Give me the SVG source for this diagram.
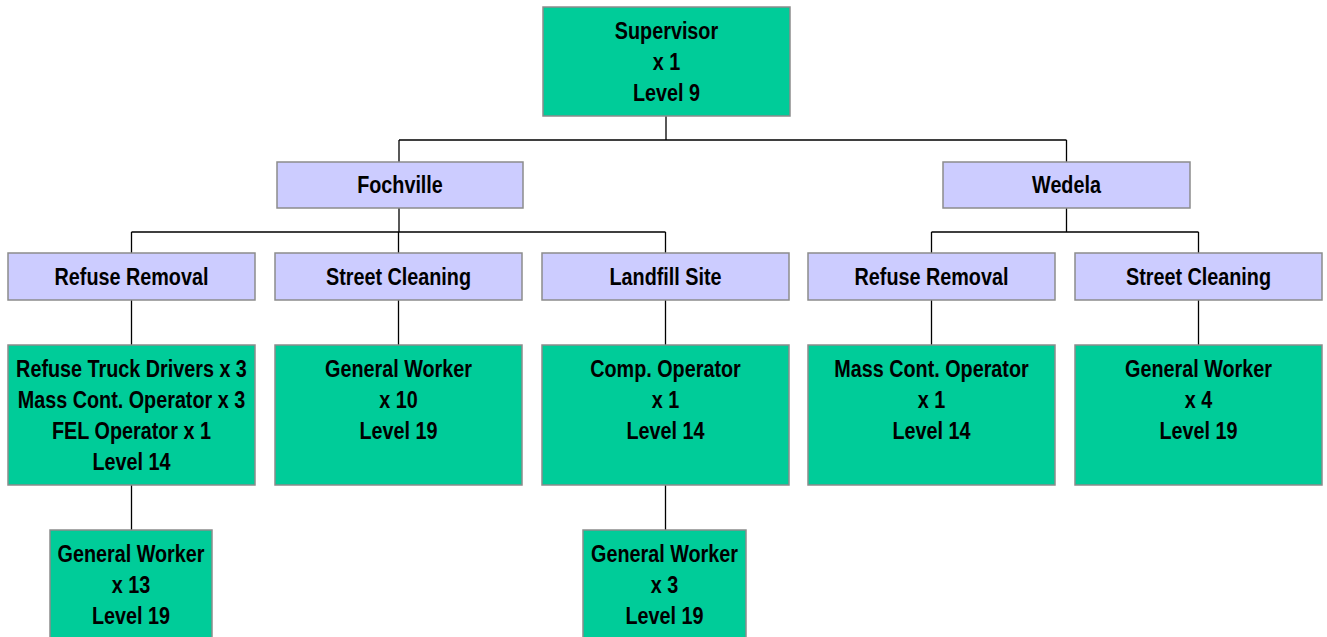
<svg xmlns="http://www.w3.org/2000/svg" width="1327" height="637" viewBox="0 0 1327 637">
  <style>
    .g { fill: #00CC99; stroke: #8C8C8C; stroke-width: 1.5; }
    .p { fill: #CCCCFF; stroke: #8C8C8C; stroke-width: 1.5; }
    text { font-family: "Liberation Sans", Arial, sans-serif; font-weight: bold; font-size: 23px; fill: #000; text-anchor: middle; }
    .c { fill: none; stroke: #000; stroke-width: 1.3; }
  </style>
  <rect width="1327" height="637" fill="#fff"/>

  <g id="connectors">
    <path class="c" d="M666 116V140M399 140H1066.5M399 140V162M1066.5 140V162"/>
    <path class="c" d="M399 208V232M131.5 232H665.5M131.5 232V253M398.5 232V253M665.5 232V253"/>
    <path class="c" d="M1066.5 208V232M931.5 232H1198.5M931.5 232V253M1198.5 232V253"/>
    <path class="c" d="M131.5 300V345M398.5 300V345M665.5 300V345M931.5 300V345M1198.5 300V345"/>
    <path class="c" d="M131.5 485V530M665.5 485V530"/>
  </g>

  <g id="supervisor">
    <rect class="g" x="543" y="7" width="247" height="109"/>
    <g transform="translate(666.5 0) scale(0.86 1)">
      <text x="0" y="39">Supervisor</text>
      <text x="0" y="70">x 1</text>
      <text x="0" y="101">Level 9</text>
    </g>
  </g>

  <g id="fochville">
    <rect class="p" x="277" y="162" width="246" height="46"/>
    <g transform="translate(400 0) scale(0.86 1)">
      <text x="0" y="193">Fochville</text>
    </g>
  </g>
  <g id="wedela">
    <rect class="p" x="943" y="162" width="247" height="46"/>
    <g transform="translate(1066.5 0) scale(0.86 1)">
      <text x="0" y="193">Wedela</text>
    </g>
  </g>

  <g id="f-refuse">
    <rect class="p" x="8" y="253" width="247" height="47"/>
    <g transform="translate(131.5 0) scale(0.86 1)">
      <text x="0" y="285">Refuse Removal</text>
    </g>
  </g>
  <g id="f-street">
    <rect class="p" x="275" y="253" width="247" height="47"/>
    <g transform="translate(398.5 0) scale(0.86 1)">
      <text x="0" y="285">Street Cleaning</text>
    </g>
  </g>
  <g id="f-landfill">
    <rect class="p" x="542" y="253" width="247" height="47"/>
    <g transform="translate(665.5 0) scale(0.86 1)">
      <text x="0" y="285">Landfill Site</text>
    </g>
  </g>
  <g id="w-refuse">
    <rect class="p" x="808" y="253" width="247" height="47"/>
    <g transform="translate(931.5 0) scale(0.86 1)">
      <text x="0" y="285">Refuse Removal</text>
    </g>
  </g>
  <g id="w-street">
    <rect class="p" x="1075" y="253" width="247" height="47"/>
    <g transform="translate(1198.5 0) scale(0.86 1)">
      <text x="0" y="285">Street Cleaning</text>
    </g>
  </g>

  <g id="f-refuse-staff">
    <rect class="g" x="8" y="345" width="247" height="140"/>
    <g transform="translate(131.5 0) scale(0.86 1)">
      <text x="0" y="377">Refuse Truck Drivers x 3</text>
      <text x="0" y="408">Mass Cont. Operator x 3</text>
      <text x="0" y="439">FEL Operator x 1</text>
      <text x="0" y="470">Level 14</text>
    </g>
  </g>
  <g id="f-street-staff">
    <rect class="g" x="275" y="345" width="247" height="140"/>
    <g transform="translate(398.5 0) scale(0.86 1)">
      <text x="0" y="377">General Worker</text>
      <text x="0" y="408">x 10</text>
      <text x="0" y="439">Level 19</text>
    </g>
  </g>
  <g id="f-landfill-staff">
    <rect class="g" x="542" y="345" width="247" height="140"/>
    <g transform="translate(665.5 0) scale(0.86 1)">
      <text x="0" y="377">Comp. Operator</text>
      <text x="0" y="408">x 1</text>
      <text x="0" y="439">Level 14</text>
    </g>
  </g>
  <g id="w-refuse-staff">
    <rect class="g" x="808" y="345" width="247" height="140"/>
    <g transform="translate(931.5 0) scale(0.86 1)">
      <text x="0" y="377">Mass Cont. Operator</text>
      <text x="0" y="408">x 1</text>
      <text x="0" y="439">Level 14</text>
    </g>
  </g>
  <g id="w-street-staff">
    <rect class="g" x="1075" y="345" width="247" height="140"/>
    <g transform="translate(1198.5 0) scale(0.86 1)">
      <text x="0" y="377">General Worker</text>
      <text x="0" y="408">x 4</text>
      <text x="0" y="439">Level 19</text>
    </g>
  </g>

  <g id="f-refuse-workers">
    <rect class="g" x="50" y="530" width="162" height="120"/>
    <g transform="translate(131 0) scale(0.86 1)">
      <text x="0" y="562">General Worker</text>
      <text x="0" y="593">x 13</text>
      <text x="0" y="624">Level 19</text>
    </g>
  </g>
  <g id="f-landfill-workers">
    <rect class="g" x="583" y="530" width="163" height="120"/>
    <g transform="translate(664.5 0) scale(0.86 1)">
      <text x="0" y="562">General Worker</text>
      <text x="0" y="593">x 3</text>
      <text x="0" y="624">Level 19</text>
    </g>
  </g>
</svg>
